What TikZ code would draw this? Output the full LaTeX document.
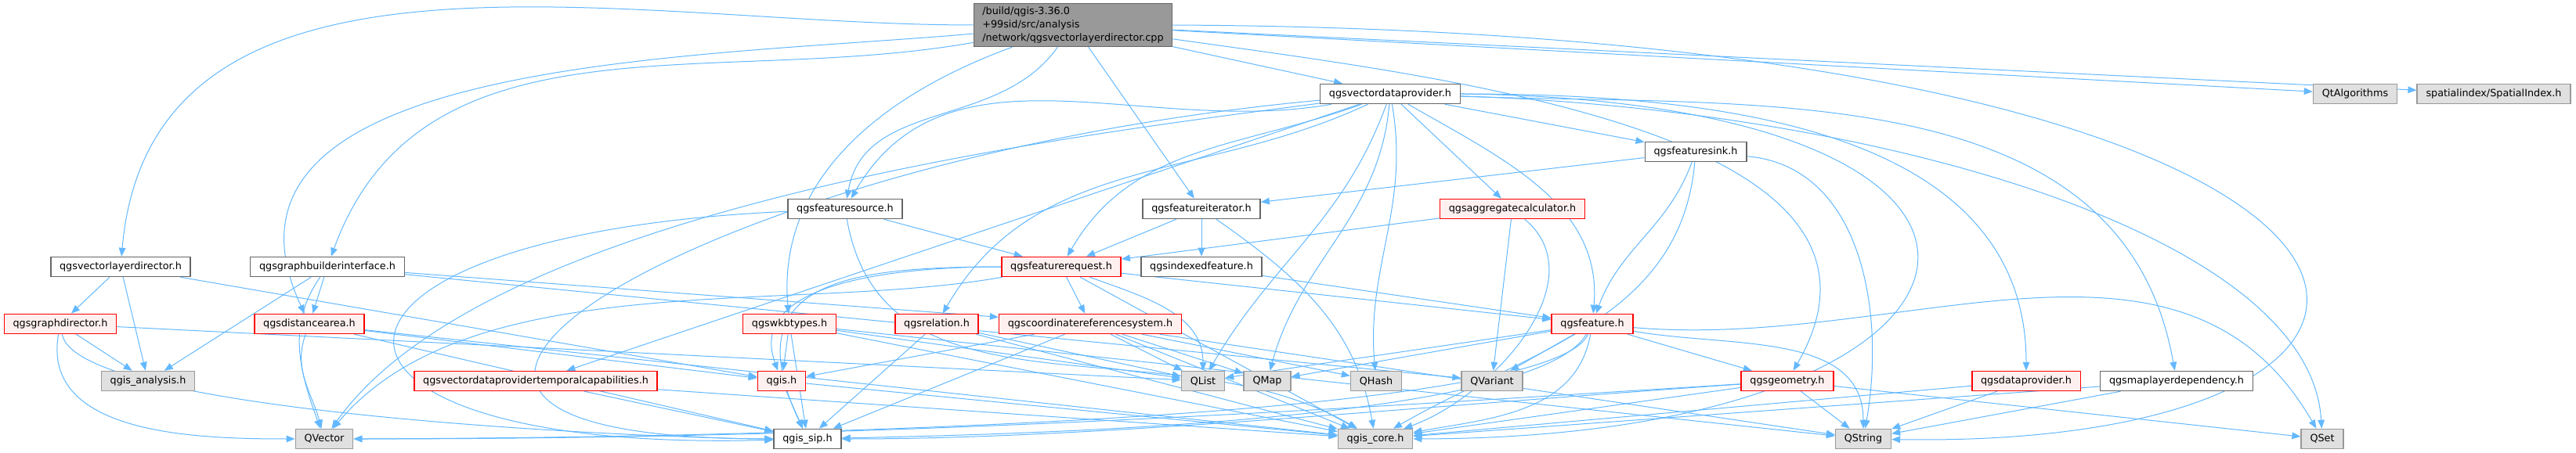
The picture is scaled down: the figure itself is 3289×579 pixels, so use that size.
\documentclass[tikz,border=0pt]{standalone}
\usepackage{fontspec}
\setmainfont{DejaVu Sans}
\usetikzlibrary{arrows.meta,backgrounds}

\definecolor{edgeblue}{HTML}{63B8FF}
\definecolor{redfill}{HTML}{FFF0F0}
\definecolor{extfill}{HTML}{E0E0E0}
\definecolor{extline}{HTML}{999999}
\definecolor{fileline}{HTML}{666666}
\definecolor{mainfill}{HTML}{999999}

\begin{document}
\begin{tikzpicture}[x=0.3mm,y=-0.3mm,
  every node/.style={font=\fontsize{10.9}{14.5}\selectfont, inner xsep=3.4mm, inner ysep=0pt, minimum height=7.5mm, line width=0.45mm},
  file/.style={draw=fileline, fill=white},
  redfile/.style={draw=red, fill=redfill},
  ext/.style={draw=extline, fill=extfill},
  mainfile/.style={draw=fileline, fill=mainfill, align=left, inner xsep=3.3mm, inner ysep=0.6mm, minimum height=16.5mm},
  dep/.style={draw=edgeblue, line width=0.3mm, -{Triangle[length=3.3mm,width=2.6mm]}}]
\useasboundingbox (0,0) rectangle (3289,579);
\node[mainfile] (a0) at (1370,32) {/build/qgis-3.36.0\\+99sid/src/analysis\\/network/qgsvectorlayerdirector.cpp};
\node[file] (a1) at (154,341) {qgsvectorlayerdirector.h};
\node[redfile] (a2) at (77,414) {qgsgraphdirector.h};
\node[ext] (a3) at (189,487) {qgis\_analysis.h};
\node[ext] (a4) at (414,561) {QVector};
\node[file] (a5) at (418,341) {qgsgraphbuilderinterface.h};
\node[redfile] (a6) at (395,414) {qgsdistancearea.h};
\node[redfile] (a7) at (684,487) {qgsvectordataprovidertemporalcapabilities.h};
\node[file] (a8) at (1031,561) {qgis\_sip.h};
\node[redfile] (a9) at (998,487) {qgis.h};
\node[redfile] (a10) at (1008,414) {qgswkbtypes.h};
\node[redfile] (a11) at (1196,414) {qgsrelation.h};
\node[redfile] (a12) at (1392,414) {qgscoordinatereferencesystem.h};
\node[redfile] (a13) at (1355,341) {qgsfeaturerequest.h};
\node[file] (a14) at (1534,341) {qgsindexedfeature.h};
\node[file] (a15) at (1079,267) {qgsfeaturesource.h};
\node[file] (a16) at (1534,267) {qgsfeatureiterator.h};
\node[file] (a17) at (1775,120) {qgsvectordataprovider.h};
\node[file] (a18) at (2165,194) {qgsfeaturesink.h};
\node[redfile] (a19) at (1931,267) {qgsaggregatecalculator.h};
\node[redfile] (a20) at (2033,414) {qgsfeature.h};
\node[ext] (a21) at (1536,487) {QList};
\node[ext] (a22) at (1618,487) {QMap};
\node[ext] (a23) at (1757,487) {QHash};
\node[ext] (a24) at (1905,487) {QVariant};
\node[redfile] (a25) at (2282,487) {qgsgeometry.h};
\node[ext] (a26) at (1756,561) {qgis\_core.h};
\node[ext] (a27) at (2379,561) {QString};
\node[redfile] (a28) at (2587,487) {qgsdataprovider.h};
\node[file] (a29) at (2779,487) {qgsmaplayerdependency.h};
\node[ext] (a30) at (2965,561) {QSet};
\node[ext] (a31) at (3007,120) {QtAlgorithms};
\node[ext] (a32) at (3184,120) {spatialindex/SpatialIndex.h};
\begin{pgfonlayer}{background}
% the .cpp file
\draw[dep] (a0) to[out=180,in=85] (a1);
\draw[dep] (a0) to[out=185,in=115] (a6);
\draw[dep] (a0) to[out=190,in=70] (a5);
\draw[dep] (a0) to[out=200,in=95] (a10);
\draw[dep] (a0) to[out=235,in=80] (a15);
\draw[dep] (a0) -- (a16);
\draw[dep] (a0) -- (a17);
\draw[dep] (a0) to[out=-8,in=60] (a25);
\draw[dep] (a0.east) .. controls (3200,40) and (3250,575) .. (a27);
\draw[dep] (a0) -- (a31);
\draw[dep] (a0) -- (a32);
% analysis headers
\draw[dep] (a1) -- (a2);
\draw[dep] (a1) -- (a3);
\draw[dep] (a1) -- (a9);
\draw[dep] (a2) -- (a3);
\draw[dep] (a2) to[out=260,in=180] (a4);
\draw[dep] (a2) to[out=280,in=180,looseness=0.3] (a8);
\draw[dep] (a2) -- (a21);
\draw[dep] (a5) -- (a3);
\draw[dep] (a5) to[out=235,in=110] (a4);
\draw[dep] (a5) -- (a6);
\draw[dep] (a5) -- (a12);
\draw[dep] (a5) -- (a24);
\draw[dep] (a6) to[out=250,in=105] (a4);
\draw[dep] (a6) -- (a9);
\draw[dep] (a6) -- (a26);
\draw[dep] (a6) -- (a8);
% core headers
\draw[dep] (a7) -- (a8);
\draw[dep] (a7) -- (a26);
\draw[dep] (a9) -- (a8);
\draw[dep] (a9) -- (a26);
\draw[dep] (a10) -- (a9);
\draw[dep] (a10) -- (a8);
\draw[dep] (a10) -- (a26);
\draw[dep] (a10) -- (a21);
\draw[dep] (a10) -- (a27);
\draw[dep] (a11) -- (a8);
\draw[dep] (a11) -- (a26);
\draw[dep] (a11) -- (a21);
\draw[dep] (a12) -- (a9);
\draw[dep] (a12) -- (a8);
\draw[dep] (a12) -- (a26);
\draw[dep] (a12) -- (a21);
\draw[dep] (a12) -- (a22);
\draw[dep] (a12) -- (a23);
\draw[dep] (a12) -- (a27);
\draw[dep] (a13) -- (a12);
\draw[dep] (a13) -- (a20);
\draw[dep] (a13) to[out=180,in=110] (a9);
\draw[dep] (a13) to[out=180,in=115,looseness=1.6] (a8);
\draw[dep] (a13) to[out=190,in=50,looseness=0.8] (a4);
\draw[dep] (a13) to[out=-20,in=90] (a21);
\draw[dep] (a13) -- (a26);
\draw[dep] (a15) -- (a13);
\draw[dep] (a15) to[out=-80,in=150] (a26);
\draw[dep] (a15) .. controls (340,300) and (340,580) .. (a8);
\draw[dep] (a16) -- (a13);
\draw[dep] (a16) -- (a14);
\draw[dep] (a16) to[out=-35,in=100] (a26);
\draw[dep] (a14) -- (a20);
% qgsvectordataprovider.h
\draw[dep] (a17) to[out=190,in=60] (a15);
\draw[dep] (a17) to[out=200,in=60] (a13);
\draw[dep] (a17) to[out=205,in=60] (a11);
\draw[dep] (a17) -- (a7);
\draw[dep] (a17) .. controls (900,200) and (300,560) .. (a8);
\draw[dep] (a17) .. controls (1400,170) and (628,258) .. (a4);
\draw[dep] (a17) to[out=250,in=60] (a21);
\draw[dep] (a17) to[out=265,in=75] (a22);
\draw[dep] (a17) to[out=280,in=95] (a23);
\draw[dep] (a17) -- (a19);
\draw[dep] (a17) to[out=-30,in=85] (a20);
\draw[dep] (a17) -- (a18);
\draw[dep] (a17) to[out=0,in=90] (a28);
\draw[dep] (a17) to[out=-2,in=100] (a29);
\draw[dep] (a17) .. controls (2400,140) and (2950,300) .. (a30);
\draw[dep] (a17.east) .. controls (2700,130) and (2600,560) .. (a26);
\draw[dep] (a18) -- (a16);
\draw[dep] (a18) to[out=250,in=70] (a20);
\draw[dep] (a18) to[out=265,in=30] (a26);
\draw[dep] (a18) to[out=-5,in=80] (a27);
\draw[dep] (a19) -- (a13);
\draw[dep] (a19) -- (a24);
\draw[dep] (a19) to[out=-40,in=20] (a26);
% qgsfeature.h and qgsgeometry.h
\draw[dep] (a20) -- (a21);
\draw[dep] (a20) -- (a22);
\draw[dep] (a20) -- (a24);
\draw[dep] (a20) -- (a25);
\draw[dep] (a20) to[out=-10,in=90] (a27);
\draw[dep] (a20) to[out=-5,in=120] (a30);
\draw[dep] (a20) to[out=260,in=10] (a26);
\draw[dep] (a20) .. controls (1960,540) and (1300,555) .. (a8);
\draw[dep] (a20) .. controls (1980,540) and (900,560) .. (a4);
\draw[dep] (a25) -- (a27);
\draw[dep] (a25) -- (a30);
\draw[dep] (a25) -- (a26);
\draw[dep] (a25) .. controls (1800,520) and (1400,561) .. (a8);
\draw[dep] (a25) .. controls (1600,530) and (1100,561) .. (a4);
\draw[dep] (a28) -- (a27);
\draw[dep] (a28) -- (a26);
\draw[dep] (a29) -- (a27);
\draw[dep] (a29) -- (a26);
\end{pgfonlayer}
\end{tikzpicture}
\end{document}
